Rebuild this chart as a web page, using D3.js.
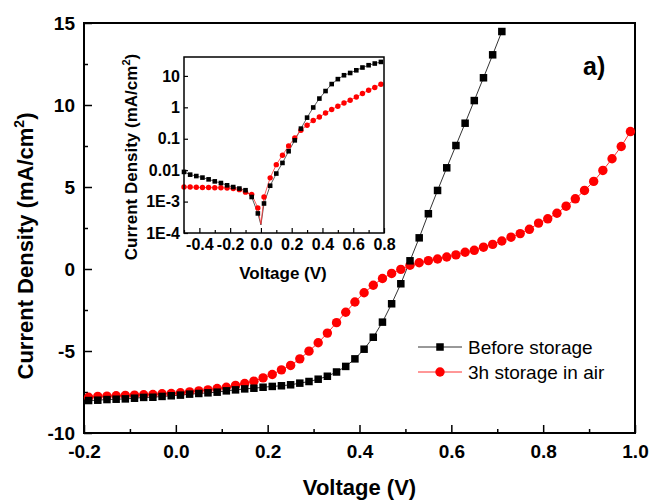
<!DOCTYPE html>
<html>
<head>
<meta charset="utf-8">
<script src="https://cdn.jsdelivr.net/npm/d3@7"></script>
<style>
  html, body { margin: 0; padding: 0; background: #fff; }
  svg { display: block; }
  text { font-family: "Liberation Sans", Arial, sans-serif; }
</style>
</head>
<body>
<svg id="chart" width="650" height="501"></svg>
<script>
// J–V curves: main panel (linear) and inset (log of |J|)
const voltage = d3.range(60).map(i => +(-0.19 + 0.02 * i).toFixed(2)); // -0.19 … 0.99 V
const beforeStorage = [
  -8.02, -8.00, -7.96, -7.94, -7.92, -7.88, -7.83, -7.82, -7.77, -7.73,
  -7.69, -7.63, -7.59, -7.55, -7.51, -7.43, -7.37, -7.31, -7.27, -7.21,
  -7.16, -7.12, -7.06, -6.96, -6.86, -6.72, -6.54, -6.28, -5.94, -5.48,
  -4.89, -4.16, -3.24, -2.12, -0.90, 0.50, 1.90, 3.37, 4.79, 6.17,
  7.53, 8.89, 10.27, 11.66, 13.06, 14.48
];
const afterStorage = [
  -7.82, -7.77, -7.75, -7.73, -7.71, -7.69, -7.67, -7.65, -7.61, -7.59,
  -7.55, -7.49, -7.43, -7.37, -7.29, -7.21, -7.10, -6.98, -6.84, -6.64,
  -6.43, -6.15, -5.88, -5.48, -5.01, -4.50, -3.91, -3.27, -2.64, -2.01,
  -1.45, -0.99, -0.58, -0.27, -0.02, 0.23, 0.38, 0.51, 0.61, 0.73,
  0.86, 1.02, 1.14, 1.33, 1.50, 1.71, 1.94, 2.16, 2.42, 2.80,
  3.06, 3.40, 3.83, 4.28, 4.79, 5.34, 6.01, 6.72, 7.47, 8.38
];
const seriesNames = ["Before storage", "3h storage in air"];

const xTicks = [-0.2, 0.0, 0.2, 0.4, 0.6, 0.8, 1.0];
const xMinorTicks = [-0.1, 0.1, 0.3, 0.5, 0.7, 0.9];
const yTicks = [-10, -5, 0, 5, 10, 15];
const yMinorTicks = [-7.5, -2.5, 2.5, 7.5, 12.5];

// inset: |J| on a log axis
const insetVoltage = d3.range(33).map(i => +(-0.50 + 0.04 * i).toFixed(2)); // -0.50 … 0.78 V
const insetBefore = [
  8.8e-3, 7.2e-3, 6.5e-3, 5.8e-3, 5.1e-3, 4.4e-3, 3.9e-3, 3.3e-3, 2.9e-3, 2.6e-3,
  2.3e-3, 1.4e-3, 4.2e-4, 8.7e-4, 3.2e-3, 7.8e-3, 0.017, 0.040, 0.089, 0.21,
  0.47, 0.99, 1.9, 3.3, 5.5, 7.9, 10.5, 12.4, 15.1, 18.5,
  21.9, 24.8, 27.9
];
const insetAfter = [
  2.9e-3, 2.9e-3, 2.85e-3, 2.8e-3, 2.8e-3, 2.75e-3, 2.75e-3, 2.7e-3, 2.6e-3, 2.4e-3,
  2.0e-3, 1.7e-3, 6.3e-4, 1.4e-3, 5.7e-3, 0.015, 0.030, 0.059, 0.106, 0.186,
  0.27, 0.38, 0.49, 0.66, 0.85, 1.08, 1.38, 1.68, 2.14, 2.75,
  3.5, 4.3, 5.4
];
// the connecting lines also pass through the minimum at 0 V
const insetZeroV = 0.0;
const insetZeroBefore = 1.8e-4;
const insetZeroAfter = 1.9e-4;

const insetXTicks = [-0.4, -0.2, 0.0, 0.2, 0.4, 0.6, 0.8];
const insetXMinorTicks = [-0.5, -0.3, -0.1, 0.1, 0.3, 0.5, 0.7];
const insetYTicks = [1e-4, 1e-3, 1e-2, 1e-1, 1, 10];
const insetYLabels = ["1E-4", "1E-3", "0.01", "0.1", "1", "10"];

const colors = ["#000000", "#ff0000"];
const lineColors = ["#333333", "#ff3030"];

const svg = d3.select("#chart");

// ---------- main panel ----------
const M = { left: 84, right: 635, top: 23, bottom: 433 };
const x = d3.scaleLinear().domain([-0.2, 1.0]).range([M.left, M.right]);
const y = d3.scaleLinear().domain([-10, 15]).range([M.bottom, M.top]);

const fmt1 = d => d.toFixed(1);

const xAxis = svg.append("g").attr("transform", `translate(0,${M.bottom})`)
  .call(d3.axisBottom(x).tickValues(xTicks).tickFormat(fmt1).tickSize(-8).tickPadding(12));
svg.append("g").attr("transform", `translate(0,${M.bottom})`)
  .call(d3.axisBottom(x).tickValues(xMinorTicks).tickFormat("").tickSize(-4));
const yAxis = svg.append("g").attr("transform", `translate(${M.left},0)`)
  .call(d3.axisLeft(y).tickValues(yTicks).tickFormat(d => String(d)).tickSize(-8).tickPadding(9));
svg.append("g").attr("transform", `translate(${M.left},0)`)
  .call(d3.axisLeft(y).tickValues(yMinorTicks).tickFormat("").tickSize(-4));

svg.selectAll(".domain").remove();
svg.selectAll(".tick line").attr("stroke", "#000").attr("stroke-width", 1.5);
[xAxis, yAxis].forEach(g => g.selectAll("text")
  .attr("font-size", 19).attr("font-weight", "bold").attr("fill", "#000")
  .attr("font-family", "'Liberation Sans', Arial, sans-serif"));

svg.append("rect")
  .attr("x", M.left).attr("y", M.top)
  .attr("width", M.right - M.left).attr("height", M.bottom - M.top)
  .attr("fill", "none").attr("stroke", "#000").attr("stroke-width", 2);

svg.append("text")
  .attr("x", (M.left + M.right) / 2).attr("y", 495)
  .attr("text-anchor", "middle").attr("font-size", 22).attr("font-weight", "bold")
  .text("Voltage (V)");

const yTitle = svg.append("text")
  .attr("transform", "translate(33,246) rotate(-90)")
  .attr("text-anchor", "middle").attr("font-size", 22).attr("font-weight", "bold");
yTitle.append("tspan").text("Current Density (mA/cm");
yTitle.append("tspan").attr("font-size", 14).attr("dy", -9).text("2");
yTitle.append("tspan").attr("dy", 9).text(")");

svg.append("text")
  .attr("x", 583).attr("y", 75)
  .attr("font-size", 25).attr("font-weight", "bold")
  .text("a)");

const mainSeries = [beforeStorage, afterStorage].map((vals, s) =>
  vals.map((v, i) => ({ v: voltage[i], j: v, s })));

const line = d3.line().x(d => x(d.v)).y(d => y(d.j));
mainSeries.forEach((pts, s) => {
  svg.append("path").datum(pts)
    .attr("d", line).attr("fill", "none")
    .attr("stroke", lineColors[s]).attr("stroke-width", 1);
});
// red circles first, black squares on top
svg.append("g").selectAll("circle").data(mainSeries[1]).join("circle")
  .attr("cx", d => x(d.v)).attr("cy", d => y(d.j)).attr("r", 4.7)
  .attr("fill", colors[1]);
const sq = 7.5;
svg.append("g").selectAll("rect").data(mainSeries[0]).join("rect")
  .attr("x", d => x(d.v) - sq / 2).attr("y", d => y(d.j) - sq / 2)
  .attr("width", sq).attr("height", sq).attr("fill", colors[0]);

// legend
const legend = svg.append("g");
seriesNames.forEach((name, s) => {
  const ly = 347 + s * 25;
  legend.append("line").attr("x1", 418).attr("x2", 462).attr("y1", ly).attr("y2", ly)
    .attr("stroke", lineColors[s]).attr("stroke-width", 1);
  if (s === 0) {
    legend.append("rect").attr("x", 440 - sq / 2).attr("y", ly - sq / 2)
      .attr("width", sq).attr("height", sq).attr("fill", colors[0]);
  } else {
    legend.append("circle").attr("cx", 440).attr("cy", ly).attr("r", 4.7).attr("fill", colors[1]);
  }
  legend.append("text").attr("x", 468).attr("y", ly + 7)
    .attr("font-size", 19).attr("fill", "#000").text(name);
});

// ---------- inset ----------
const I = { left: 184, right: 384, top: 57, bottom: 233 };
const ix = d3.scaleLinear().domain([-0.5, 0.8]).range([I.left, I.right]);
const iy = d3.scaleLog().domain([1e-4, 40]).range([I.bottom, I.top]);

const inset = svg.append("g");
inset.append("rect")
  .attr("x", I.left).attr("y", I.top)
  .attr("width", I.right - I.left).attr("height", I.bottom - I.top)
  .attr("fill", "#fff");

const ixAxis = inset.append("g").attr("transform", `translate(0,${I.bottom})`)
  .call(d3.axisBottom(ix).tickValues(insetXTicks).tickFormat(fmt1).tickSize(-5).tickPadding(6));
inset.append("g").attr("transform", `translate(0,${I.bottom})`)
  .call(d3.axisBottom(ix).tickValues(insetXMinorTicks).tickFormat("").tickSize(-3));
const iyAxis = inset.append("g").attr("transform", `translate(${I.left},0)`)
  .call(d3.axisLeft(iy).tickValues(insetYTicks)
    .tickFormat((d, i) => insetYLabels[i]).tickSize(-4).tickPadding(4));
inset.selectAll(".domain").remove();
inset.selectAll(".tick line").attr("stroke", "#000").attr("stroke-width", 1.2);
[ixAxis, iyAxis].forEach(g => g.selectAll("text")
  .attr("font-size", 16).attr("font-weight", "bold").attr("fill", "#000")
  .attr("font-family", "'Liberation Sans', Arial, sans-serif"));

inset.append("text")
  .attr("x", 283).attr("y", 279)
  .attr("text-anchor", "middle").attr("font-size", 17).attr("font-weight", "bold")
  .text("Voltage (V)");
const iyTitle = inset.append("text")
  .attr("transform", "translate(137,157) rotate(-90)")
  .attr("text-anchor", "middle").attr("font-size", 17).attr("font-weight", "bold");
iyTitle.append("tspan").text("Current Density (mA/cm");
iyTitle.append("tspan").attr("font-size", 11).attr("dy", -7).text("2");
iyTitle.append("tspan").attr("dy", 7).text(")");

const insetSeries = [insetBefore, insetAfter].map((vals, s) =>
  vals.map((v, i) => ({ v: insetVoltage[i], j: v, s })));
const insetZero = [insetZeroBefore, insetZeroAfter];
const iline = d3.line().x(d => ix(d.v)).y(d => iy(d.j));
insetSeries.forEach((pts, s) => {
  const withZero = pts.concat([{ v: insetZeroV, j: insetZero[s], s }])
    .sort((a, b) => a.v - b.v);
  inset.append("path").datum(withZero)
    .attr("d", iline).attr("fill", "none")
    .attr("stroke", lineColors[s]).attr("stroke-width", 0.8);
});
inset.append("g").selectAll("circle").data(insetSeries[1]).join("circle")
  .attr("cx", d => ix(d.v)).attr("cy", d => iy(d.j)).attr("r", 2.7)
  .attr("fill", colors[1]);
const isq = 4.6;
inset.append("g").selectAll("rect").data(insetSeries[0]).join("rect")
  .attr("x", d => ix(d.v) - isq / 2).attr("y", d => iy(d.j) - isq / 2)
  .attr("width", isq).attr("height", isq).attr("fill", colors[0]);

inset.append("rect")
  .attr("x", I.left).attr("y", I.top)
  .attr("width", I.right - I.left).attr("height", I.bottom - I.top)
  .attr("fill", "none").attr("stroke", "#000").attr("stroke-width", 1.5);
</script>
</body>
</html>
